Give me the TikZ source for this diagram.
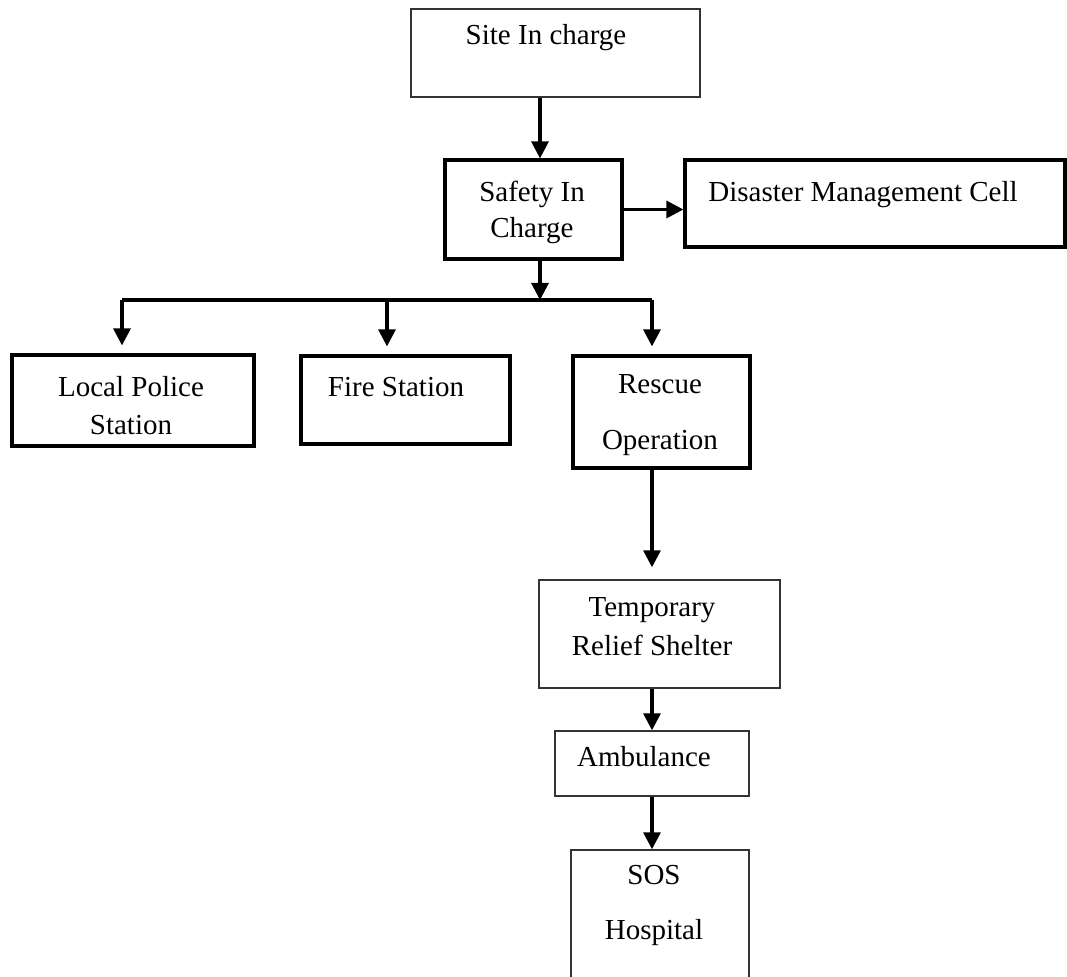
\documentclass[tikz,border=0pt]{standalone}
\usepackage{fontspec}
\setmainfont{Liberation Serif}
\usetikzlibrary{arrows.meta}
\begin{document}
\begin{tikzpicture}[x=0.5pt,y=-0.5pt,
    thickbox/.style={draw, line width=1.6pt, inner sep=0pt},
    thinbox/.style={draw=black!80, line width=0.7pt, inner sep=0pt},
    lbl/.style={font=\fontsize{14.5}{18}\selectfont, align=center, inner sep=0pt},
    arr/.style={line width=1.6pt, -{Triangle[length=8.5pt,width=8.5pt]}},
    bus/.style={line width=1.6pt}]
  \useasboundingbox (0,0) rectangle (1067,977);
  \node [thinbox, minimum width=144.5pt, minimum height=44pt] (site) at (555.5,53) {};
  \node [lbl] (sitetext) at (546,38) {Site In charge};
  \node [thickbox, minimum width=88.5pt, minimum height=49.5pt] (safety) at (533.5,209.5) {};
  \node [lbl] (safetytext) at (532,212) {Safety In\\Charge};
  \node [thickbox, minimum width=190pt, minimum height=43.5pt] (dmc) at (875,203.5) {};
  \node [lbl] (dmctext) at (863,195) {Disaster Management Cell};
  \node [thickbox, minimum width=121pt, minimum height=45.5pt] (police) at (133,400.5) {};
  \node [lbl] (policetext) at (131,406) {Local Police\\[1pt]Station};
  \node [thickbox, minimum width=104.5pt, minimum height=44pt] (fire) at (405.5,400) {};
  \node [lbl] (firetext) at (396,387) {Fire Station};
  \node [thickbox, minimum width=88.5pt, minimum height=56pt] (rescue) at (661.5,412) {};
  \node [lbl] (rescuetext) at (660,415) {Rescue\\[10pt]Operation};
  \node [thinbox, minimum width=120.5pt, minimum height=54pt] (temp) at (659.5,634) {};
  \node [lbl] (temptext) at (652,627) {Temporary\\[1.5pt]Relief Shelter};
  \node [thinbox, minimum width=97pt, minimum height=32.5pt] (amb) at (652,763.5) {};
  \node [lbl] (ambtext) at (644,757) {Ambulance};
  \node [thinbox, minimum width=89pt, minimum height=100pt] (sos) at (660,950) {};
  \node [lbl] (sostext) at (654,905) {SOS\\[9.5pt]Hospital};
  \coordinate (jn) at (540,300);
  \coordinate (busL) at (122,300);
  \coordinate (busM) at (387,300);
  \coordinate (busR) at (652,300);
  \draw [arr] (site.south -| jn) -- (safety.north -| jn);
  \draw [arr] (safety.east) -- (safety.east -| dmc.west);
  \draw [arr] (safety.south -| jn) -- (jn);
  \draw [bus] (busL) -- (busR);
  \draw [arr, shorten >=4pt] (busL) -- (busL |- police.north);
  \draw [arr, shorten >=4pt] (busM) -- (busM |- fire.north);
  \draw [arr, shorten >=4pt] (busR) -- (busR |- rescue.north);
  \draw [arr, shorten >=6pt] (rescue.south -| busR) -- (temp.north -| busR);
  \draw [arr] (temp.south -| busR) -- (amb.north -| busR);
  \draw [arr] (amb.south -| busR) -- (sos.north -| busR);
\end{tikzpicture}
\end{document}
